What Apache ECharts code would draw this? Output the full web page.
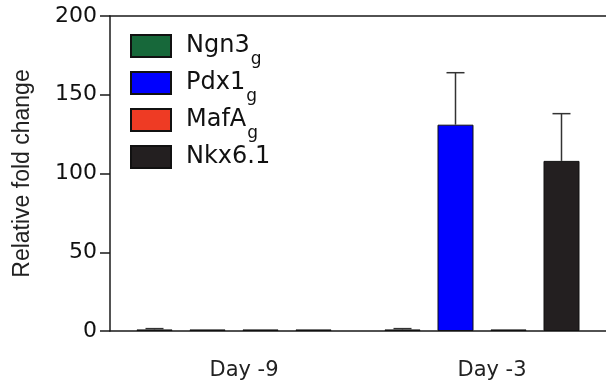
<!DOCTYPE html>
<html>
<head>
<meta charset="utf-8">
<script src="https://cdn.jsdelivr.net/npm/echarts@6/dist/echarts.min.js"></script>
<style>
  html, body { margin: 0; padding: 0; background: #fff; }
  #chart { width: 606px; height: 387px; }
</style>
</head>
<body>
<div id="chart"></div>
<script>
// data
const days = ['Day -9', 'Day -3'];
const genes = ['Ngn3', 'Pdx1', 'MafA', 'Nkx6.1'];
const subscripts = ['g', 'g', 'g', ' '];
const ngn3 = [1, 1];
const pdx1 = [1, 131];
const mafa = [1, 1];
const nkx61 = [1, 108];
const ngn3Err = [0.5, 0.5];
const pdx1Err = [0, 33];
const mafaErr = [0, 0];
const nkx61Err = [0, 30];
const yTicks = [0, 50, 100, 150, 200];

const colors = ['#17683a', '#0000fe', '#ee3b24', '#231f20'];
const values = [ngn3, pdx1, mafa, nkx61];
const errors = [ngn3Err, pdx1Err, mafaErr, nkx61Err];

const BAR_W = 36;
const BAR_GAP = 17; // px between bars of one group

const myChart = echarts.init(document.getElementById('chart'));

// error bar drawn above bar k of each group
const errorRender = (k) => (params, api) => {
    const cat = api.value(0);
    const val = api.value(1);
    const err = api.value(2);
    if (!err) return null;
    const base = api.coord([cat, val]);
    const top = api.coord([cat, val + err]);
    const x = base[0] + (k - 1.5) * (BAR_W + BAR_GAP);
    const style = { stroke: '#333', lineWidth: 1.5 };
    return {
        type: 'group',
        children: [
            { type: 'line', shape: { x1: x, y1: base[1], x2: x, y2: top[1] }, style },
            { type: 'line', shape: { x1: x - 9, y1: top[1], x2: x + 9, y2: top[1] }, style }
        ]
    };
};

const barSeries = genes.map((g, k) => ({
    name: g,
    type: 'bar',
    barWidth: BAR_W,
    barGap: (BAR_GAP / BAR_W * 100) + '%',
    data: values[k],
    itemStyle: { color: colors[k], borderColor: '#111', borderWidth: 1 },
    z: 2
}));

const errSeries = genes.map((g, k) => ({
    name: g + '_err',
    type: 'custom',
    renderItem: errorRender(k),
    data: values[k].map((v, i) => [i, v, errors[k][i]]),
    z: 3,
    silent: true
}));

const option = {
    animation: false,
    grid: { left: 110, top: 16, right: -4, bottom: 56 },
    legend: {
        orient: 'vertical',
        left: 125,
        top: 27,
        icon: 'rect',
        itemWidth: 40,
        itemHeight: 22,
        itemGap: 1,
        data: genes,
        formatter: (name) => `{n|${name}}{s|${subscripts[genes.indexOf(name)]}}`,
        textStyle: {
            color: '#111',
            fontFamily: 'DejaVu Sans',
            rich: {
                n: { fontSize: 24, fontFamily: 'DejaVu Sans', color: '#111', padding: [0, 0, 0, 10], verticalAlign: 'middle', lineHeight: 28 },
                s: { fontSize: 17, fontFamily: 'DejaVu Sans', color: '#111', padding: [19, 0, 0, 1], verticalAlign: 'top', lineHeight: 20 }
            }
        }
    },
    xAxis: [
        {
            type: 'category',
            data: days,
            axisLine: { lineStyle: { color: '#1a1a1a', width: 1.5 } },
            axisTick: { show: false },
            axisLabel: {
                color: '#222',
                fontFamily: 'DejaVu Sans',
                fontSize: 21,
                margin: 29,
                padding: [0, 0, 0, 20]
            }
        },
        {
            type: 'category',
            position: 'top',
            data: days,
            axisLine: { lineStyle: { color: '#1a1a1a', width: 1.5 } },
            axisTick: { show: false },
            axisLabel: { show: false }
        }
    ],
    yAxis: {
        type: 'value',
        min: yTicks[0],
        max: yTicks[yTicks.length - 1],
        interval: 50,
        name: 'Relative fold change',
        nameLocation: 'middle',
        nameGap: 76,
        nameTextStyle: { color: '#222', fontFamily: 'Liberation Sans', fontSize: 23 },
        axisLine: { show: true, lineStyle: { color: '#1a1a1a', width: 1.5 } },
        axisTick: { show: true, length: 10, lineStyle: { color: '#1a1a1a', width: 1.5 } },
        axisLabel: { color: '#111', fontFamily: 'DejaVu Sans', fontSize: 22, margin: 13 },
        splitLine: { show: false }
    },
    series: [...barSeries, ...errSeries]
};

myChart.setOption(option);
window.addEventListener('resize', () => {
    myChart.resize();
});
</script>
</body>
</html>
